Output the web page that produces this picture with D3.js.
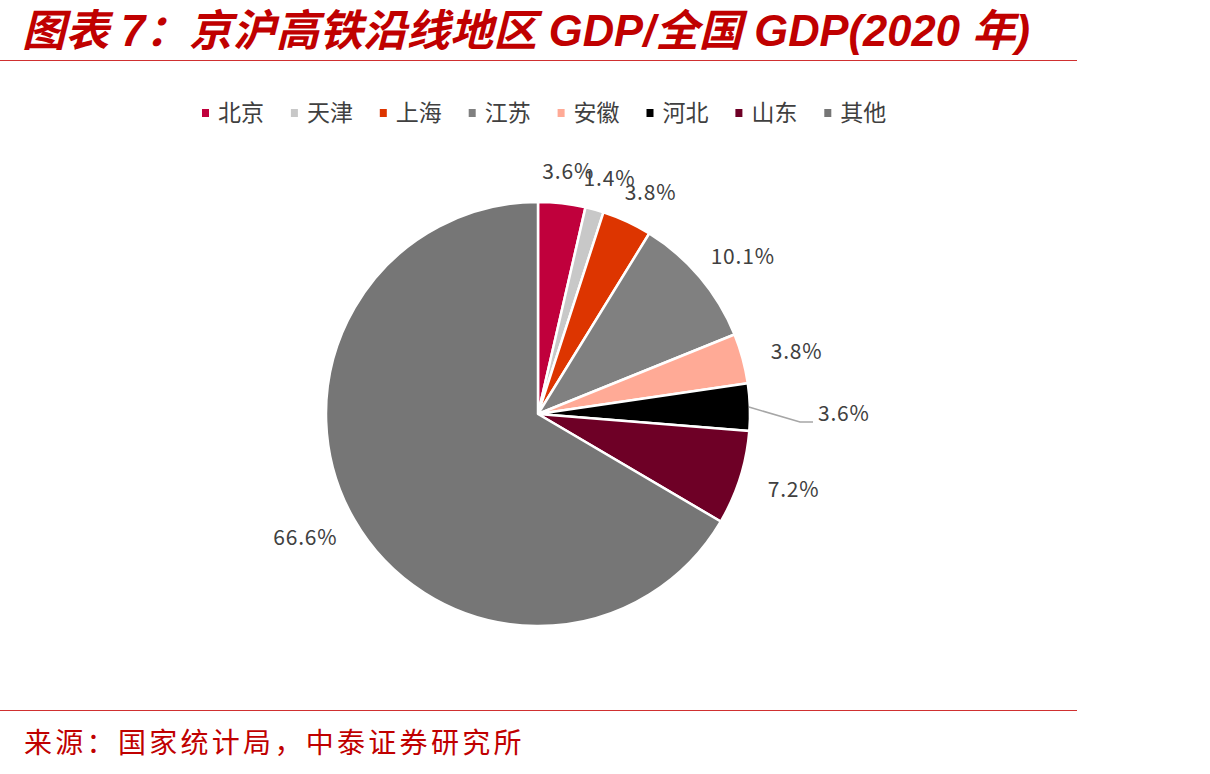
<!DOCTYPE html>
<html>
<head>
<meta charset="utf-8">
<script src="https://cdn.jsdelivr.net/npm/d3@7"></script>
<style>
  body { margin: 0; background: #fff; }
  svg { display: block; }
</style>
</head>
<body>
<div id="chart"></div>
<script>
// data
const regions = ['北京', '天津', '上海', '江苏', '安徽', '河北', '山东', '其他'];
const shares = [3.6, 1.4, 3.8, 10.1, 3.8, 3.6, 7.2, 66.6];
const colors = ['#C0003C', '#C8C8C8', '#DD3500', '#808080', '#FFAA96', '#000000', '#6E0026', '#767676'];

const width = 1210, height = 774;
const cx = 538, cy = 414, radius = 212;

const svg = d3.select('#chart')
    .append('svg')
    .attr('width', width)
    .attr('height', height);

// title
svg.append('text')
    .attr('x', 22)
    .attr('y', 46)
    .attr('font-family', '"Liberation Sans", "Noto Sans CJK SC", sans-serif')
    .attr('font-size', 43.5)
    .attr('font-weight', 'bold')
    .attr('font-style', 'italic')
    .attr('fill', '#C00000')
    .text('图表 7：京沪高铁沿线地区 GDP/全国 GDP(2020 年)');

svg.append('line')
    .attr('x1', 0).attr('x2', 1077)
    .attr('y1', 60.5).attr('y2', 60.5)
    .attr('stroke', '#D03030')
    .attr('stroke-width', 1.2);

svg.append('line')
    .attr('x1', 0).attr('x2', 1077)
    .attr('y1', 710.5).attr('y2', 710.5)
    .attr('stroke', '#D03030')
    .attr('stroke-width', 1.2);

// source
svg.append('text')
    .attr('x', 24)
    .attr('y', 753)
    .attr('font-family', '"Noto Sans CJK SC", sans-serif')
    .attr('font-size', 28)
    .attr('letter-spacing', 3.3)
    .attr('fill', '#C00000')
    .text('来源：国家统计局，中泰证券研究所');

// legend
const legend = svg.append('g')
    .attr('transform', 'translate(202,113)');

const item = legend.selectAll('g')
    .data(regions)
    .join('g')
    .attr('transform', (d, i) => `translate(${i * 88.9},0)`);

item.append('rect')
    .attr('x', 0)
    .attr('y', -4)
    .attr('width', 7)
    .attr('height', 8)
    .attr('fill', (d, i) => colors[i]);

item.append('text')
    .attr('x', 16)
    .attr('y', 8)
    .attr('font-family', '"Noto Sans CJK SC", sans-serif')
    .attr('font-size', 23)
    .attr('fill', '#404040')
    .text(d => d);

// pie
const pie = d3.pie().sort(null).value(d => d);
const arcs = pie(shares);

const arc = d3.arc().innerRadius(0).outerRadius(radius);
const labelArc = d3.arc().innerRadius(258).outerRadius(258);

const g = svg.append('g')
    .attr('transform', `translate(${cx},${cy})`);

g.selectAll('path')
    .data(arcs)
    .join('path')
    .attr('d', arc)
    .attr('fill', (d, i) => colors[i])
    .attr('stroke', '#fff')
    .attr('stroke-width', 2.5)
    .attr('stroke-linejoin', 'round');

// labels; the 河北 one sits further out with a leader line
const pulled = 5;
const midAngle = d => (d.startAngle + d.endAngle) / 2;

g.selectAll('text.lbl')
    .data(arcs)
    .join('text')
    .attr('class', 'lbl')
    .attr('font-family', '"Noto Sans CJK SC", sans-serif')
    .attr('font-size', 21)
    .attr('letter-spacing', 0.8)
    .attr('fill', '#404040')
    .attr('text-anchor', (d, i) => i === pulled ? 'start' : 'middle')
    .attr('dominant-baseline', 'central')
    .attr('x', (d, i) => {
        if (i === pulled) return 280;
        return labelArc.centroid(d)[0] + Math.sin(midAngle(d)) * 10;
    })
    .attr('y', (d, i) => {
        if (i === pulled) return -2;
        return labelArc.centroid(d)[1] + Math.cos(midAngle(d)) * 12;
    })
    .text(d => d.data.toFixed(1) + '%');

const a = arcs[pulled];
const edge = [Math.sin(midAngle(a)) * (radius - 1), -Math.cos(midAngle(a)) * (radius - 1)];
g.append('polyline')
    .attr('points', [edge, [262, 8], [275, 8]].map(p => p.join(',')).join(' '))
    .attr('fill', 'none')
    .attr('stroke', '#A6A6A6')
    .attr('stroke-width', 1.5);
</script>
</body>
</html>
